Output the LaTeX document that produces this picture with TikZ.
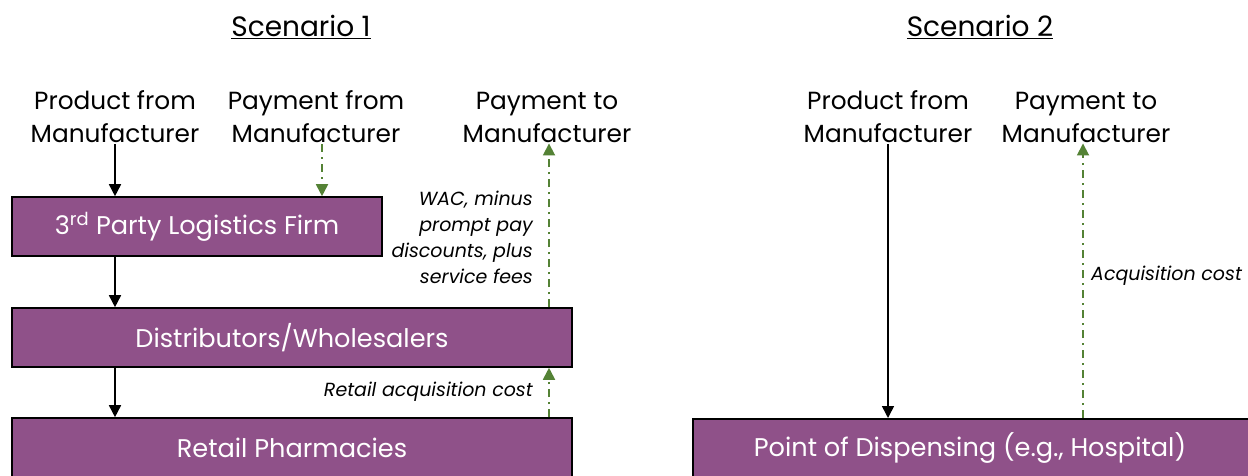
\documentclass[tikz,border=0pt]{standalone}
\usepackage{fontspec}
\setmainfont{Poppins}
\usetikzlibrary{arrows.meta}
\definecolor{boxpurple}{HTML}{8F5189}
\definecolor{paygreen}{HTML}{548235}
\begin{document}
\begin{tikzpicture}[x=1pt,y=-1pt,
  lab/.style={align=center,inner sep=1pt,font=\fontsize{24.8}{33}\selectfont},
  ttl/.style={inner sep=1pt,font=\fontsize{28}{30}\selectfont},
  note/.style={inner sep=1pt,font=\fontsize{19}{26}\selectfont\itshape},
  pbox/.style={draw=black,line width=1.6pt,fill=boxpurple,text=white,inner sep=0pt,
    font=\fontsize{25.6}{30}\selectfont},
  blk/.style={line width=1.6pt,-{Triangle[width=12pt,length=12pt]}},
  grn/.style={paygreen,line width=1.8pt,dash pattern=on 8pt off 5pt on 2pt off 5pt,
    -{Triangle[width=12pt,length=12pt]}}]
\useasboundingbox[fill=white] (0,0) rectangle (1248,476);
% titles
\node[ttl] (t1) at (301,27) {\underline{Scenario 1}};
\node[ttl] (t2) at (980,27) {\underline{Scenario 2}};
% scenario 1 labels
\node[lab] (pf1) at (115,117) {Product from\\Manufacturer};
\node[lab] (pm1) at (316,117) {Payment from\\Manufacturer};
\node[lab] (pt1) at (547,117) {Payment to\\Manufacturer};
% boxes
\node[pbox,minimum width=370pt,minimum height=59pt] (b1) at (197,226.5) {3\textsuperscript{rd} Party Logistics Firm};
\node[pbox,minimum width=560pt,minimum height=59pt] (b2) at (292,337.5) {Distributors/Wholesalers};
\node[pbox,minimum width=560pt,minimum height=60pt] (b3) at (292,448) {Retail Pharmacies};
% arrows scenario 1
\draw[blk] (pf1.south) -- (pf1.south |- b1.north);
\draw[blk] (pf1.south |- b1.south) -- (pf1.south |- b2.north);
\draw[blk] (pf1.south |- b2.south) -- (pf1.south |- b3.north);
\draw[grn] ([xshift=6pt]pm1.south) -- ([xshift=6pt]pm1.south |- b1.north);
\draw[grn] ([xshift=2pt]pt1.south |- b2.north) -- ([xshift=2pt]pt1.south);
\draw[grn] ([xshift=2pt]pt1.south |- b3.north) -- ([xshift=2pt]pt1.south |- b2.south);
\node[note,align=right,anchor=east] (n1) at (534,237) {WAC, minus\\prompt pay\\discounts, plus\\service fees};
\node[note,anchor=east] (n2) at (534,392) {Retail acquisition cost};
% scenario 2
\node[lab] (pf2) at (888,117) {Product from\\Manufacturer};
\node[lab] (pt2) at (1086,117) {Payment to\\Manufacturer};
\node[pbox,minimum width=570pt,minimum height=60pt,anchor=north west] (b4) at (692,418) {};
\node[pbox,draw=none,fill=none] (b4t) at (970,448) {Point of Dispensing (e.g., Hospital)};
\draw[blk] (pf2.south) -- (pf2.south |- b4.north);
\draw[grn] ([xshift=-3pt]pt2.south |- b4.north) -- ([xshift=-3pt]pt2.south);
\node[note,anchor=west] (n3) at (1090,276) {Acquisition cost};
\end{tikzpicture}
\end{document}
